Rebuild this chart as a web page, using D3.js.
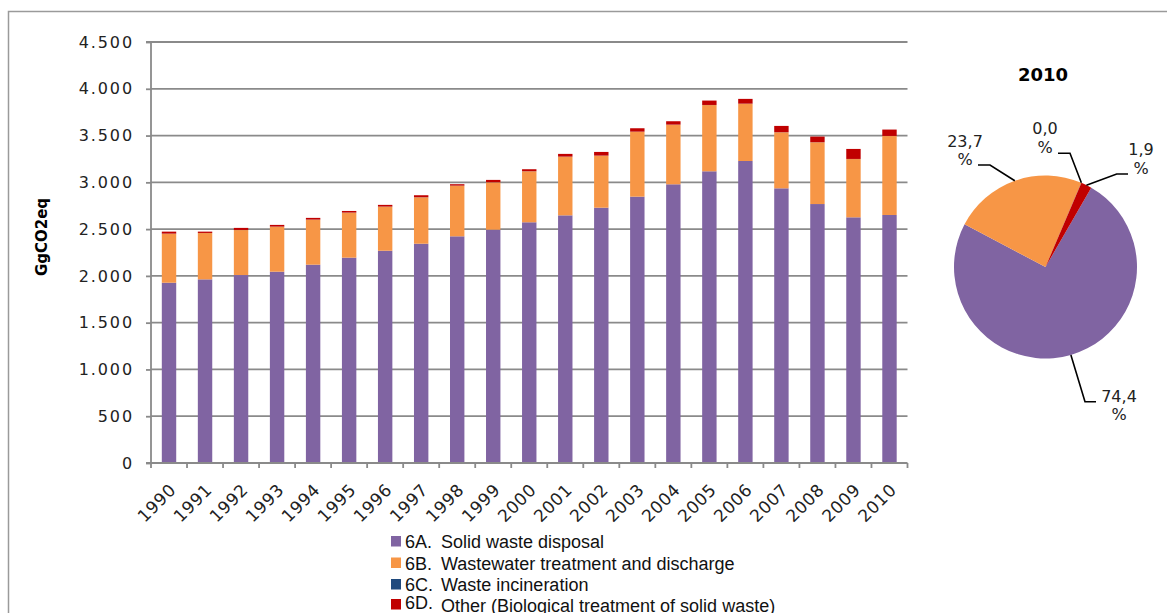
<!DOCTYPE html>
<html>
<head>
<meta charset="utf-8">
<script src="https://cdn.jsdelivr.net/npm/d3@7"></script>
<style>
  html, body { margin: 0; padding: 0; background: #fff; }
  svg { display: block; }
</style>
</head>
<body>
<svg id="chart" width="1167" height="613"></svg>
<script>
// ---- data ----
const years = ["1990","1991","1992","1993","1994","1995","1996","1997","1998","1999","2000",
               "2001","2002","2003","2004","2005","2006","2007","2008","2009","2010"];
const solidWaste   = [1927,1963,2009,2045,2120,2195,2269,2344,2423,2494,2573,2647,2729,2847,2979,3118,3228,2936,2768,2626,2651];
const wastewater   = [524,495,481,481,481,481,471,496,541,506,545,627,556,694,637,708,612,599,660,623,844];
const incineration = [1,1,1,1,1,1,1,1,1,1,1,1,1,1,1,1,1,1,1,1,1];
const otherBio     = [21,14,22,18,18,17,18,21,15,25,21,29,39,36,36,47,51,67,60,107,68];
const seriesNames  = ["6A.", "6B.", "6C.", "6D."];
const seriesLabels = ["Solid waste disposal", "Wastewater treatment and discharge",
                      "Waste incineration", "Other (Biological treatment of solid waste)"];
const seriesColors = ["#8064A2", "#F79646", "#1F497D", "#C00000"];
const yTicks = [0,500,1000,1500,2000,2500,3000,3500,4000,4500];
const yTitle = "GgCO2eq";
const pieYear = "2010";

// ---- setup ----
const svg = d3.select("#chart");
const gridColor = "#8a8a8a";

// outer frame
svg.append("path")
  .attr("d", "M8.5,613 L8.5,11.5 L1167,11.5")
  .attr("fill", "none").attr("stroke", "#9a9a9a").attr("stroke-width", 1.5);

const plot = {left: 151, right: 907.5, top: 42, bottom: 463};
const x = d3.scaleBand().domain(years).range([plot.left, plot.right])
  .paddingInner(0.6).paddingOuter(0.3);
const y = d3.scaleLinear().domain([0, 4500]).range([plot.bottom, plot.top]);

// gridlines
svg.append("g").selectAll("line").data(yTicks.filter(d => d > 0)).join("line")
  .attr("x1", plot.left).attr("x2", plot.right)
  .attr("y1", d => y(d)).attr("y2", d => y(d))
  .attr("stroke", gridColor).attr("stroke-width", 1.8);

// stacked bars
const table = years.map((yr, i) => ({
  year: yr, a: solidWaste[i], b: wastewater[i], c: incineration[i], d: otherBio[i]
}));
const keys = ["a", "b", "c", "d"];
const stacked = d3.stack().keys(keys)(table);
svg.append("g").selectAll("g").data(stacked).join("g")
  .attr("fill", (d, i) => seriesColors[i])
  .selectAll("rect").data(d => d).join("rect")
  .attr("x", d => x(d.data.year))
  .attr("width", x.bandwidth())
  .attr("y", d => y(d[1]))
  .attr("height", d => Math.max(0, y(d[0]) - y(d[1])));

// y axis
const yAxis = d3.axisLeft(y).tickValues(yTicks).tickSize(5).tickPadding(14)
  .tickFormat(d => d3.format(",")(d).replace(/,/g, "."));
const gy = svg.append("g").attr("transform", `translate(${plot.left},0)`).call(yAxis);
gy.select(".domain").attr("stroke", gridColor).attr("stroke-width", 1.8)
  .attr("d", `M-5,${plot.bottom}H0V${plot.top}H-5`);
gy.selectAll(".tick line").attr("stroke", gridColor).attr("stroke-width", 1.8);
gy.selectAll(".tick text")
  .attr("font-family", "DejaVu Sans, Verdana, sans-serif")
  .attr("font-size", 16).attr("fill", "#222")
  .attr("letter-spacing", 1.9)
  .attr("x", -17);

// x axis
const xAxisLine = svg.append("g");
xAxisLine.append("line")
  .attr("x1", plot.left).attr("x2", plot.right)
  .attr("y1", plot.bottom).attr("y2", plot.bottom)
  .attr("stroke", gridColor).attr("stroke-width", 1.8);
const step = x.step();
const boundaries = d3.range(years.length + 1).map(i => plot.left + i * step);
xAxisLine.selectAll("line.tk").data(boundaries).join("line").attr("class", "tk")
  .attr("x1", d => d).attr("x2", d => d)
  .attr("y1", plot.bottom).attr("y2", plot.bottom + 5)
  .attr("stroke", gridColor).attr("stroke-width", 1.8);
svg.append("g").selectAll("text").data(years).join("text")
  .attr("transform", d => `translate(${x(d) + x.bandwidth() / 2 + 8},${plot.bottom + 28}) rotate(-45)`)
  .attr("text-anchor", "end")
  .attr("font-family", "DejaVu Sans, Verdana, sans-serif")
  .attr("font-size", 17).attr("fill", "#222")
  .attr("letter-spacing", 0.6)
  .text(d => d);

// y title
svg.append("text")
  .attr("transform", `translate(47,237) rotate(-90)`)
  .attr("text-anchor", "middle")
  .attr("font-family", "DejaVu Sans, Verdana, sans-serif")
  .attr("font-weight", "bold").attr("font-size", 15).attr("fill", "#000")
  .text(yTitle);

// legend
const legendRows = [548, 569.5, 591, 611];
const lg = svg.append("g");
seriesNames.forEach((nm, i) => {
  lg.append("rect").attr("x", 391).attr("y", legendRows[i] - 12)
    .attr("width", 10).attr("height", 10.5).attr("fill", seriesColors[i]);
  lg.append("text").attr("x", 405).attr("y", i === 3 ? legendRows[i] - 2 : legendRows[i])
    .attr("font-family", "Liberation Sans, Arial, sans-serif")
    .attr("font-size", 18).attr("fill", "#111")
    .text(nm);
  lg.append("text").attr("x", 441).attr("y", i === 3 ? legendRows[i] + 1 : legendRows[i])
    .attr("font-family", "Liberation Sans, Arial, sans-serif")
    .attr("font-size", 18).attr("fill", "#111")
    .text(seriesLabels[i]);
});

// ---- pie ----
const pieIdx = years.indexOf(pieYear);
const pieVals = [solidWaste[pieIdx], wastewater[pieIdx], incineration[pieIdx], otherBio[pieIdx]];
const pieTotal = d3.sum(pieVals);
const cx = 1045.5, cy = 267, r = 91.5;
const start = 30 * Math.PI / 180;
const pie = d3.pie().sort(null).startAngle(start).endAngle(start + 2 * Math.PI);
const arcs = pie(pieVals);
const arc = d3.arc().innerRadius(0).outerRadius(r);
const pg = svg.append("g").attr("transform", `translate(${cx},${cy})`);
pg.selectAll("path").data(arcs).join("path")
  .attr("d", arc).attr("fill", (d, i) => seriesColors[i]);

svg.append("text").attr("x", 1043).attr("y", 81)
  .attr("text-anchor", "middle")
  .attr("font-family", "DejaVu Sans, Verdana, sans-serif")
  .attr("font-weight", "bold").attr("font-size", 18).attr("fill", "#000")
  .text(pieYear);

// label placements (layout only): label centre, baselines, leader elbow
const pieLabelLayout = [
  {lx: 1119, b1: 401.5, b2: 420,   elbow: [1085, 401.7], end: [1096, 401.7]},
  {lx: 965,  b1: 146.5, b2: 165,   elbow: [990, 165],    end: [978, 165]},
  {lx: 1045, b1: 133.5, b2: 153,   elbow: [1070, 153.3], end: [1058, 153.3]},
  {lx: 1141, b1: 155,   b2: 174,   elbow: [1116.7, 174], end: [1128, 174]}
];
const fmtPct = v => d3.format(".1f")(v).replace(".", ",");
arcs.forEach((a, i) => {
  const L = pieLabelLayout[i];
  const mid = (a.startAngle + a.endAngle) / 2;
  const px = cx + r * Math.sin(mid), py = cy - r * Math.cos(mid);
  svg.append("path")
    .attr("d", `M${px},${py} L${L.elbow[0]},${L.elbow[1]} L${L.end[0]},${L.end[1]}`)
    .attr("fill", "none").attr("stroke", "#000").attr("stroke-width", 1.6);
  const pct = a.value / pieTotal * 100;
  svg.append("text").attr("x", L.lx).attr("y", L.b1).attr("text-anchor", "middle")
    .attr("font-family", "DejaVu Sans, Verdana, sans-serif")
    .attr("font-size", 16).attr("fill", "#222").text(fmtPct(pct));
  svg.append("text").attr("x", L.lx).attr("y", L.b2).attr("text-anchor", "middle")
    .attr("font-family", "DejaVu Sans, Verdana, sans-serif")
    .attr("font-size", 16).attr("fill", "#222").text("%");
});
</script>
</body>
</html>
